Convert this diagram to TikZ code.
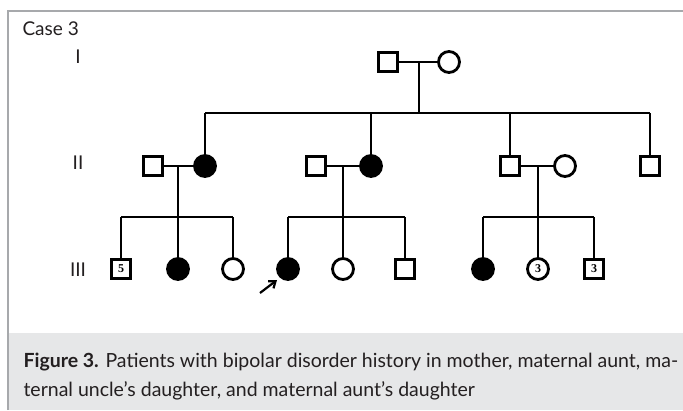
\documentclass[tikz,border=0pt]{standalone}
\usepackage{fontspec}
\setmainfont{Lato}
\newfontfamily\numfont{Liberation Serif}
\usetikzlibrary{arrows.meta}
\definecolor{capbg}{HTML}{E6E7E8}
\definecolor{framec}{HTML}{A7A9AC}
\definecolor{txt}{HTML}{231F20}
\tikzset{
  male/.style={draw, line width=2.8pt, rectangle, minimum size=18.5pt, inner sep=0pt, fill=white},
  female/.style={draw, line width=2.8pt, circle, minimum size=21pt, inner sep=0pt, fill=white},
  affected/.style={fill=black},
  rel/.style={line width=2.6pt},
  gen/.style={font=\fontsize{19}{19}\selectfont\color{txt}, anchor=center},
  num/.style={font=\numfont\bfseries\fontsize{12}{12}\selectfont}
}
\begin{document}
\begin{tikzpicture}[x=1pt,y=-1pt]
\useasboundingbox (0,0) rectangle (683,410);
\fill[white] (0,0) rectangle (683,410);
\fill[capbg] (8,333) rectangle (683,410);
\draw[framec, line width=1.5pt] (8,410) -- (8,11) -- (683,11);
\node[gen, anchor=west] (case) at (19,29) {Case 3};
\node[gen] (gI) at (78,57) {I};
\node[gen] (gII) at (78,163) {II};
\node[gen] (gIII) at (78,270) {III};
% Generation I
\node[male] (Im) at (388,62) {};
\node[female] (If) at (449,62) {};
\coordinate (Ij) at (419,62);
\coordinate (Is) at (419,113);
\coordinate (IsL) at (205,113);
\coordinate (IsR) at (650,113);
\coordinate (Is2) at (371,113);
\coordinate (Is3) at (510,113);
% Generation II
\node[male] (IIa) at (153,166) {};
\node[female, affected] (IIb) at (205,166) {};
\node[male] (IIc) at (316,166) {};
\node[female, affected] (IId) at (371,166) {};
\node[male] (IIe) at (510,166) {};
\node[female] (IIf) at (565,166) {};
\node[male] (IIg) at (650,166) {};
\coordinate (J1) at (178,166);
\coordinate (J2) at (343,166);
\coordinate (J3) at (538,166);
\coordinate (S1) at (178,217);
\coordinate (S2) at (343,217);
\coordinate (S3) at (538,217);
\coordinate (S1L) at (121,217);
\coordinate (S1R) at (233,217);
\coordinate (S2L) at (288,217);
\coordinate (S2R) at (405,217);
\coordinate (S3L) at (483,217);
\coordinate (S3R) at (594,217);
% Generation III
\node[male, num] (a1) at (121,269) {5};
\node[female, affected] (a2) at (178,269) {};
\node[female] (a3) at (233,269) {};
\node[female, affected] (b1) at (288,269) {};
\node[female] (b2) at (343,269) {};
\node[male] (b3) at (405,269) {};
\node[female, affected] (c1) at (483,269) {};
\node[female, num] (c2) at (538,269) {3};
\node[male, num] (c3) at (594,269) {3};
\coordinate (arT) at (260,293);
\coordinate (arH) at (277,280);
% connectors
\draw[rel] (Im.east) -- (If.west);
\draw[rel] (Ij) -- (Is);
\draw[rel] (IsL) -- (IsR);
\draw[rel] (IsL) -- (IIb.north);
\draw[rel] (Is2) -- (IId.north);
\draw[rel] (Is3) -- (IIe.north);
\draw[rel] (IsR) -- (IIg.north);
\draw[rel] (IIa.east) -- (IIb.west);
\draw[rel] (IIc.east) -- (IId.west);
\draw[rel] (IIe.east) -- (IIf.west);
\draw[rel] (J1) -- (S1);
\draw[rel] (J2) -- (S2);
\draw[rel] (J3) -- (S3);
\draw[rel] (S1L) -- (S1R);
\draw[rel] (S2L) -- (S2R);
\draw[rel] (S3L) -- (S3R);
\draw[rel] (S1L) -- (a1.north);
\draw[rel] (S1) -- (a2.north);
\draw[rel] (S1R) -- (a3.north);
\draw[rel] (S2L) -- (b1.north);
\draw[rel] (S2) -- (b2.north);
\draw[rel] (S2R) -- (b3.north);
\draw[rel] (S3L) -- (c1.north);
\draw[rel] (S3) -- (c2.north);
\draw[rel] (S3R) -- (c3.north);
\draw[line width=2.2pt, -{Straight Barb[length=6pt,width=9pt]}] (arT) -- (arH);
% caption
\node[anchor=west, font=\fontsize{19.5}{19.5}\selectfont\color{txt}] (cap1) at (20,362) {\textbf{Figure 3.} Patients with bipolar disorder history in mother, maternal aunt, ma-};
\node[anchor=west, font=\fontsize{19.5}{19.5}\selectfont\color{txt}] (cap2) at (20,391) {ternal uncle’s daughter, and maternal aunt’s daughter};
\end{tikzpicture}
\end{document}
